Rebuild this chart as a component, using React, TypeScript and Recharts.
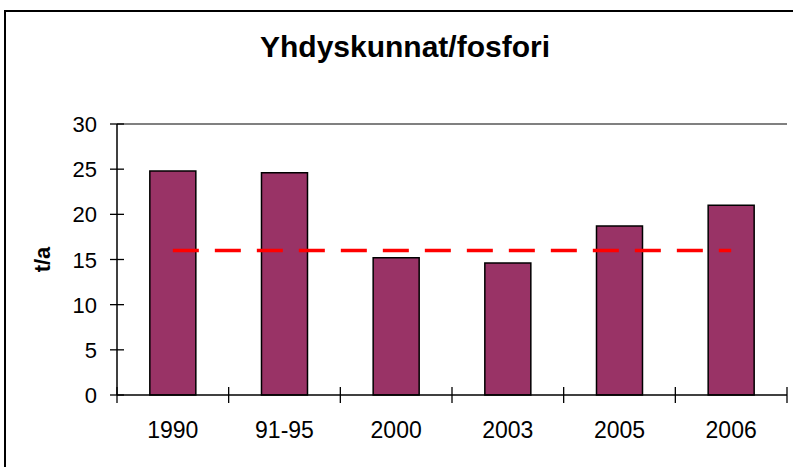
// Yhdyskunnat/fosfori: yearly phosphorus load bars with a dashed average line.
import { Bar, ComposedChart, Line, ReferenceLine, XAxis, YAxis } from 'recharts'

const categories = ['1990', '91-95', '2000', '2003', '2005', '2006']
const phosphorus = [24.8, 24.6, 15.2, 14.6, 18.7, 21.0]
const average = [16, 16, 16, 16, 16, 16]
const yTicks = [0, 5, 10, 15, 20, 25, 30]

const data = categories.map((cat, i) => ({ cat, p: phosphorus[i], avg: average[i] }))

const W = 793
const H = 467
const margin = { top: 124, right: 6, bottom: 0, left: 0 }
const Y_W = 117
const X_H = 72
const PLOT_W = W - margin.right - Y_W
const font = '"Liberation Sans", Arial, sans-serif'

function XTick(props: any) {
  const { x, y, payload, index } = props
  const half = payload?.offset || PLOT_W / categories.length / 2
  const left = x - half
  return (
    <g>
      <line x1={left} x2={left} y1={y - 8} y2={y + 8} stroke="#000" strokeWidth={1.3} />
      {index === categories.length - 1 && (
        <line x1={x + half} x2={x + half} y1={y - 8} y2={y + 8} stroke="#000" strokeWidth={1.3} />
      )}
      <text x={x} y={y + 43} textAnchor="middle" fontSize={23} fontFamily={font} fill="#000">
        {payload.value}
      </text>
    </g>
  )
}

function YTick(props: any) {
  const { x, y, payload } = props
  return (
    <g>
      <line x1={x - 7} x2={x + 7} y1={y} y2={y} stroke="#000" strokeWidth={1.3} />
      <text x={x - 20} y={y + 8} textAnchor="end" fontSize={22} fontFamily={font} fill="#000">
        {payload.value}
      </text>
    </g>
  )
}

export default function App() {
  return (
    <div
      style={{
        position: 'fixed',
        left: 0,
        top: 0,
        width: W,
        height: H,
        overflow: 'hidden',
        background: '#fff',
        fontFamily: font,
      }}
    >
      <div
        style={{
          position: 'absolute',
          left: 4,
          top: 10,
          width: 820,
          height: 480,
          border: '2px solid #000',
        }}
      />
      <div
        style={{
          position: 'absolute',
          left: 0,
          top: 32,
          width: 810,
          textAlign: 'center',
          fontSize: 30,
          lineHeight: '30px',
          fontWeight: 'bold',
          color: '#000',
        }}
      >
        Yhdyskunnat/fosfori
      </div>
      <div style={{ position: 'absolute', left: 0, top: 0 }}>
        <ComposedChart width={W} height={H} data={data} margin={margin} barCategoryGap="29.4%">
          <ReferenceLine y={30} stroke="#808080" strokeWidth={2} />
          <XAxis
            dataKey="cat"
            height={X_H}
            tickSize={0}
            tickMargin={0}
            tick={<XTick />}
            axisLine={{ stroke: '#000', strokeWidth: 1.5 }}
            interval={0}
          />
          <YAxis
            domain={[0, 30]}
            ticks={yTicks}
            width={Y_W}
            tickSize={0}
            tickMargin={0}
            tick={<YTick />}
            axisLine={{ stroke: '#000', strokeWidth: 1.5 }}
            label={{
              content: ({ viewBox }: any) => (
                <text
                  x={viewBox.x + 50}
                  y={viewBox.y + viewBox.height / 2}
                  transform={`rotate(-90 ${viewBox.x + 50} ${viewBox.y + viewBox.height / 2})`}
                  textAnchor="middle"
                  fontSize={22}
                  fontWeight="bold"
                  fontFamily={font}
                  fill="#000"
                >
                  t/a
                </text>
              ),
            }}
          />
          <YAxis
            yAxisId="right"
            orientation="right"
            width={0}
            domain={[0, 30]}
            tick={false}
            tickLine={false}
            axisLine={{ stroke: '#808080', strokeWidth: 2 }}
          />
          <Bar dataKey="p" fill="#993366" stroke="#000" strokeWidth={1.5} isAnimationActive={false} />
          <Line
            dataKey="avg"
            stroke="#ff0000"
            strokeWidth={3.5}
            strokeDasharray="26 16"
            dot={false}
            activeDot={false}
            isAnimationActive={false}
          />
        </ComposedChart>
      </div>
    </div>
  )
}
